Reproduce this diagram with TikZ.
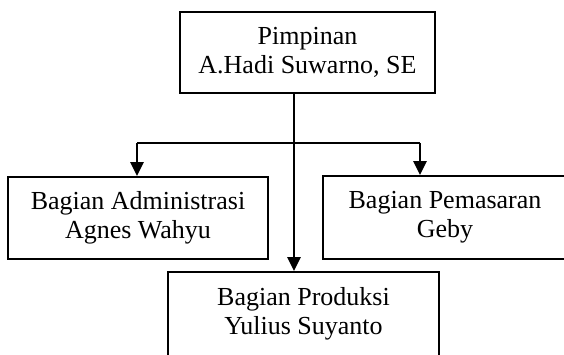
\documentclass[tikz,border=0pt]{standalone}
\usepackage{fontspec}
\setmainfont{Liberation Serif}
\usetikzlibrary{arrows.meta}
\begin{document}
\begin{tikzpicture}[x=0.75pt,y=0.75pt,
  box/.style={draw=black,line width=1.4pt,rectangle,align=center,inner sep=0pt,
    font=\fontsize{19.5}{22}\selectfont},
  conn/.style={line width=1.4pt},
  arr/.style={conn,-{Triangle[length=10.5pt,width=10pt]}}]
\useasboundingbox (0,0) rectangle (564,354);
\node[box,minimum width=191.25pt,minimum height=60.75pt] (top) at (307.5,301.5) {Pimpinan\\A.Hadi Suwarno, SE};
\node[box,minimum width=195pt,minimum height=61.5pt] (adm) at (138,136) {Bagian Administrasi\\Agnes Wahyu};
\node[box,minimum width=183pt,minimum height=62.25pt] (pem) at (445,136.5) {Bagian Pemasaran\\Geby};
\node[box,minimum width=203.25pt,minimum height=63pt] (pro) at (303.5,40) {Bagian Produksi\\Yulius Suyanto};
\coordinate (v) at (294,211);
\coordinate (hl) at (137,211);
\coordinate (hr) at (420,211);
\draw[arr] (top.south -| v) -- (pro.north -| v);
\draw[conn] (hl) -- (hr);
\draw[arr] (hl) -- (hl |- adm.north);
\draw[arr] (hr) -- (hr |- pem.north);
\end{tikzpicture}
\end{document}
